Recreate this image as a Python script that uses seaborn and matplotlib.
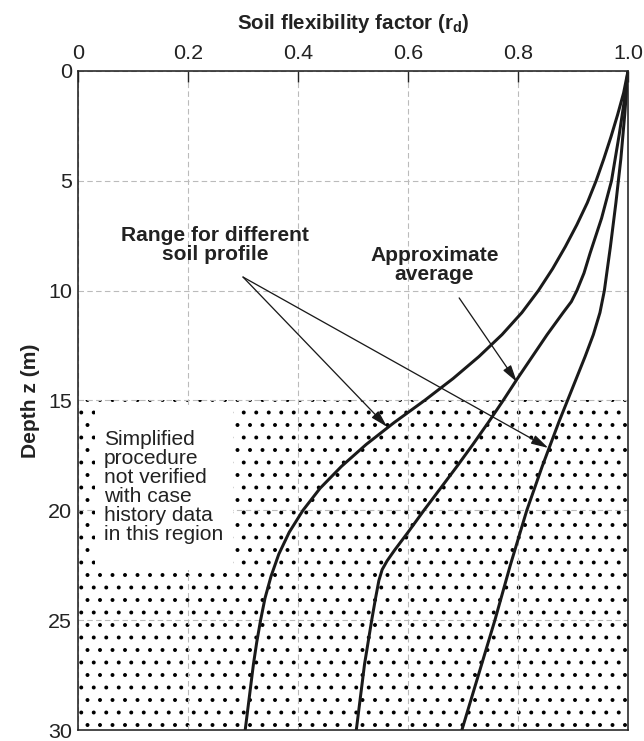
import numpy as np
import pandas as pd
import matplotlib
matplotlib.use("Agg")
import matplotlib.pyplot as plt
import seaborn as sns
from matplotlib.patches import Rectangle

# ---- data ----
lower_depth = [0, 1, 2, 3, 4, 5, 6, 7, 8, 9, 10, 11, 12, 13, 14, 15, 16, 17, 18, 19, 20,
               21, 22, 23, 24, 25, 26, 27, 28, 29, 30]
lower_rd = [1.0, 0.992, 0.981, 0.969, 0.956, 0.942, 0.926, 0.907, 0.886, 0.863, 0.837, 0.807, 0.771,
            0.729, 0.682, 0.630, 0.575, 0.524, 0.479, 0.440, 0.409, 0.384, 0.365, 0.351, 0.340, 0.332,
            0.325, 0.319, 0.314, 0.309, 0.304]

avg_depth = [0, 1.4, 2.9, 5, 6.7, 8.3, 9.2, 10, 10.5, 11, 12, 13, 14, 15, 16, 17, 18, 19, 20, 21,
             21.8, 22.3, 22.7, 23.2, 24, 25, 27, 30]
avg_rd = [1.0, 0.993, 0.984, 0.970, 0.952, 0.931, 0.920, 0.907, 0.897, 0.882, 0.853, 0.826, 0.799,
          0.773, 0.746, 0.718, 0.689, 0.659, 0.629, 0.600, 0.576, 0.562, 0.553, 0.547, 0.541, 0.534,
          0.521, 0.506]

upper_depth = [0, 2, 4, 6, 8, 10, 11, 12, 13, 14, 15, 16, 17, 18, 20, 22.5, 25, 27.5, 30]
upper_rd = [1.0, 0.994, 0.987, 0.978, 0.968, 0.957, 0.949, 0.937, 0.922, 0.906, 0.890, 0.874, 0.859,
            0.844, 0.816, 0.786, 0.758, 0.728, 0.698]

x_ticks = [0, 0.2, 0.4, 0.6, 0.8, 1.0]
x_ticklabels = ["0", "0.2", "0.4", "0.6", "0.8", "1.0"]
y_ticks = [0, 5, 10, 15, 20, 25, 30]
hatch_zone = (15, 30)

DPI = 150
def pt(px):
    return px * 72.0 / DPI

sns.set_style("white")
plt.rcParams["font.family"] = ["Liberation Sans", "DejaVu Sans"]
plt.rcParams["mathtext.fontset"] = "custom"
plt.rcParams["mathtext.rm"] = "Liberation Sans"
plt.rcParams["mathtext.bf"] = "Liberation Sans:bold"
plt.rcParams["hatch.linewidth"] = pt(1.4)
plt.rcParams["hatch.color"] = "black"

df = pd.concat([
    pd.DataFrame({"rd": lower_rd, "depth": lower_depth, "curve": "lower"}),
    pd.DataFrame({"rd": avg_rd, "depth": avg_depth, "curve": "average"}),
    pd.DataFrame({"rd": upper_rd, "depth": upper_depth, "curve": "upper"}),
])

fig = plt.figure(figsize=(644 / DPI, 741 / DPI), dpi=DPI)
ax = fig.add_axes([78 / 644, 1 - 730 / 741, (628 - 78) / 644, (730 - 71) / 741])

# dotted region
ax.add_patch(Rectangle((0, hatch_zone[0]), 1.0, hatch_zone[1] - hatch_zone[0],
                       facecolor="white", edgecolor="black", hatch="..", linewidth=0, zorder=0.2))
# white box behind note
ax.add_patch(Rectangle((0.031, 15.2), 0.25, 7.5, facecolor="white", edgecolor="none", zorder=0.8))

for name in ["lower", "average", "upper"]:
    sub = df[df["curve"] == name]
    sns.lineplot(data=sub, x="rd", y="depth", orient="y", sort=False, estimator=None,
                 color="#1a1a1a", linewidth=pt(3.0), ax=ax, zorder=2)
for line in ax.get_lines():
    line.set_solid_joinstyle("round")

ax.set_xlim(0, 1.0)
ax.set_ylim(30, 0)
ax.xaxis.tick_top()
ax.xaxis.set_label_position("top")
ax.set_xticks(x_ticks)
ax.set_xticklabels(x_ticklabels)
ax.set_yticks(y_ticks)
ax.tick_params(axis="both", direction="in", length=pt(11), width=pt(1.4),
               labelsize=pt(21.5), colors="#222222")
ax.tick_params(axis="x", pad=pt(8))
ax.tick_params(axis="y", pad=pt(6))
ax.set_axisbelow(True)
ax.grid(True, color="#bbbbbb", linestyle=(0, (5, 3)), linewidth=pt(1.1))
for s in ax.spines.values():
    s.set_color("#222222")
    s.set_linewidth(pt(1.6))
    s.set_zorder(3)

ax.set_xlabel(r"Soil flexibility factor (r$_{\mathbf{d}}$)", fontsize=pt(20.5), fontweight="bold",
              labelpad=pt(15), color="#222222")
ax.set_ylabel("Depth z (m)", fontsize=pt(21), fontweight="bold", labelpad=pt(8), color="#222222")

ax.text(0.047, 18.95, "Simplified\nprocedure\nnot verified\nwith case\nhistory data\nin this region",
        ha="left", va="center", fontsize=pt(21), color="#222222", linespacing=1.0, zorder=4)

ax.text(0.249, 7.92, "Range for different\nsoil profile", ha="center", va="center",
        fontsize=pt(21), fontweight="bold", color="#222222", linespacing=1.0, zorder=4)
ax.text(0.648, 8.83, "Approximate\naverage", ha="center", va="center",
        fontsize=pt(21), fontweight="bold", color="#222222", linespacing=1.0, zorder=4)

arrow = dict(arrowstyle="-|>,head_length=0.8,head_width=0.22", color="#1a1a1a",
             lw=pt(1.3), shrinkA=0, shrinkB=0, mutation_scale=pt(18))
ax.annotate("", xy=(0.798, 14.16), xytext=(0.693, 10.33), arrowprops=arrow, zorder=4)
ax.annotate("", xy=(0.562, 16.2), xytext=(0.30, 9.38), arrowprops=arrow, zorder=4)
ax.annotate("", xy=(0.855, 17.16), xytext=(0.30, 9.38), arrowprops=arrow, zorder=4)

fig.savefig("out.png", dpi=DPI)
